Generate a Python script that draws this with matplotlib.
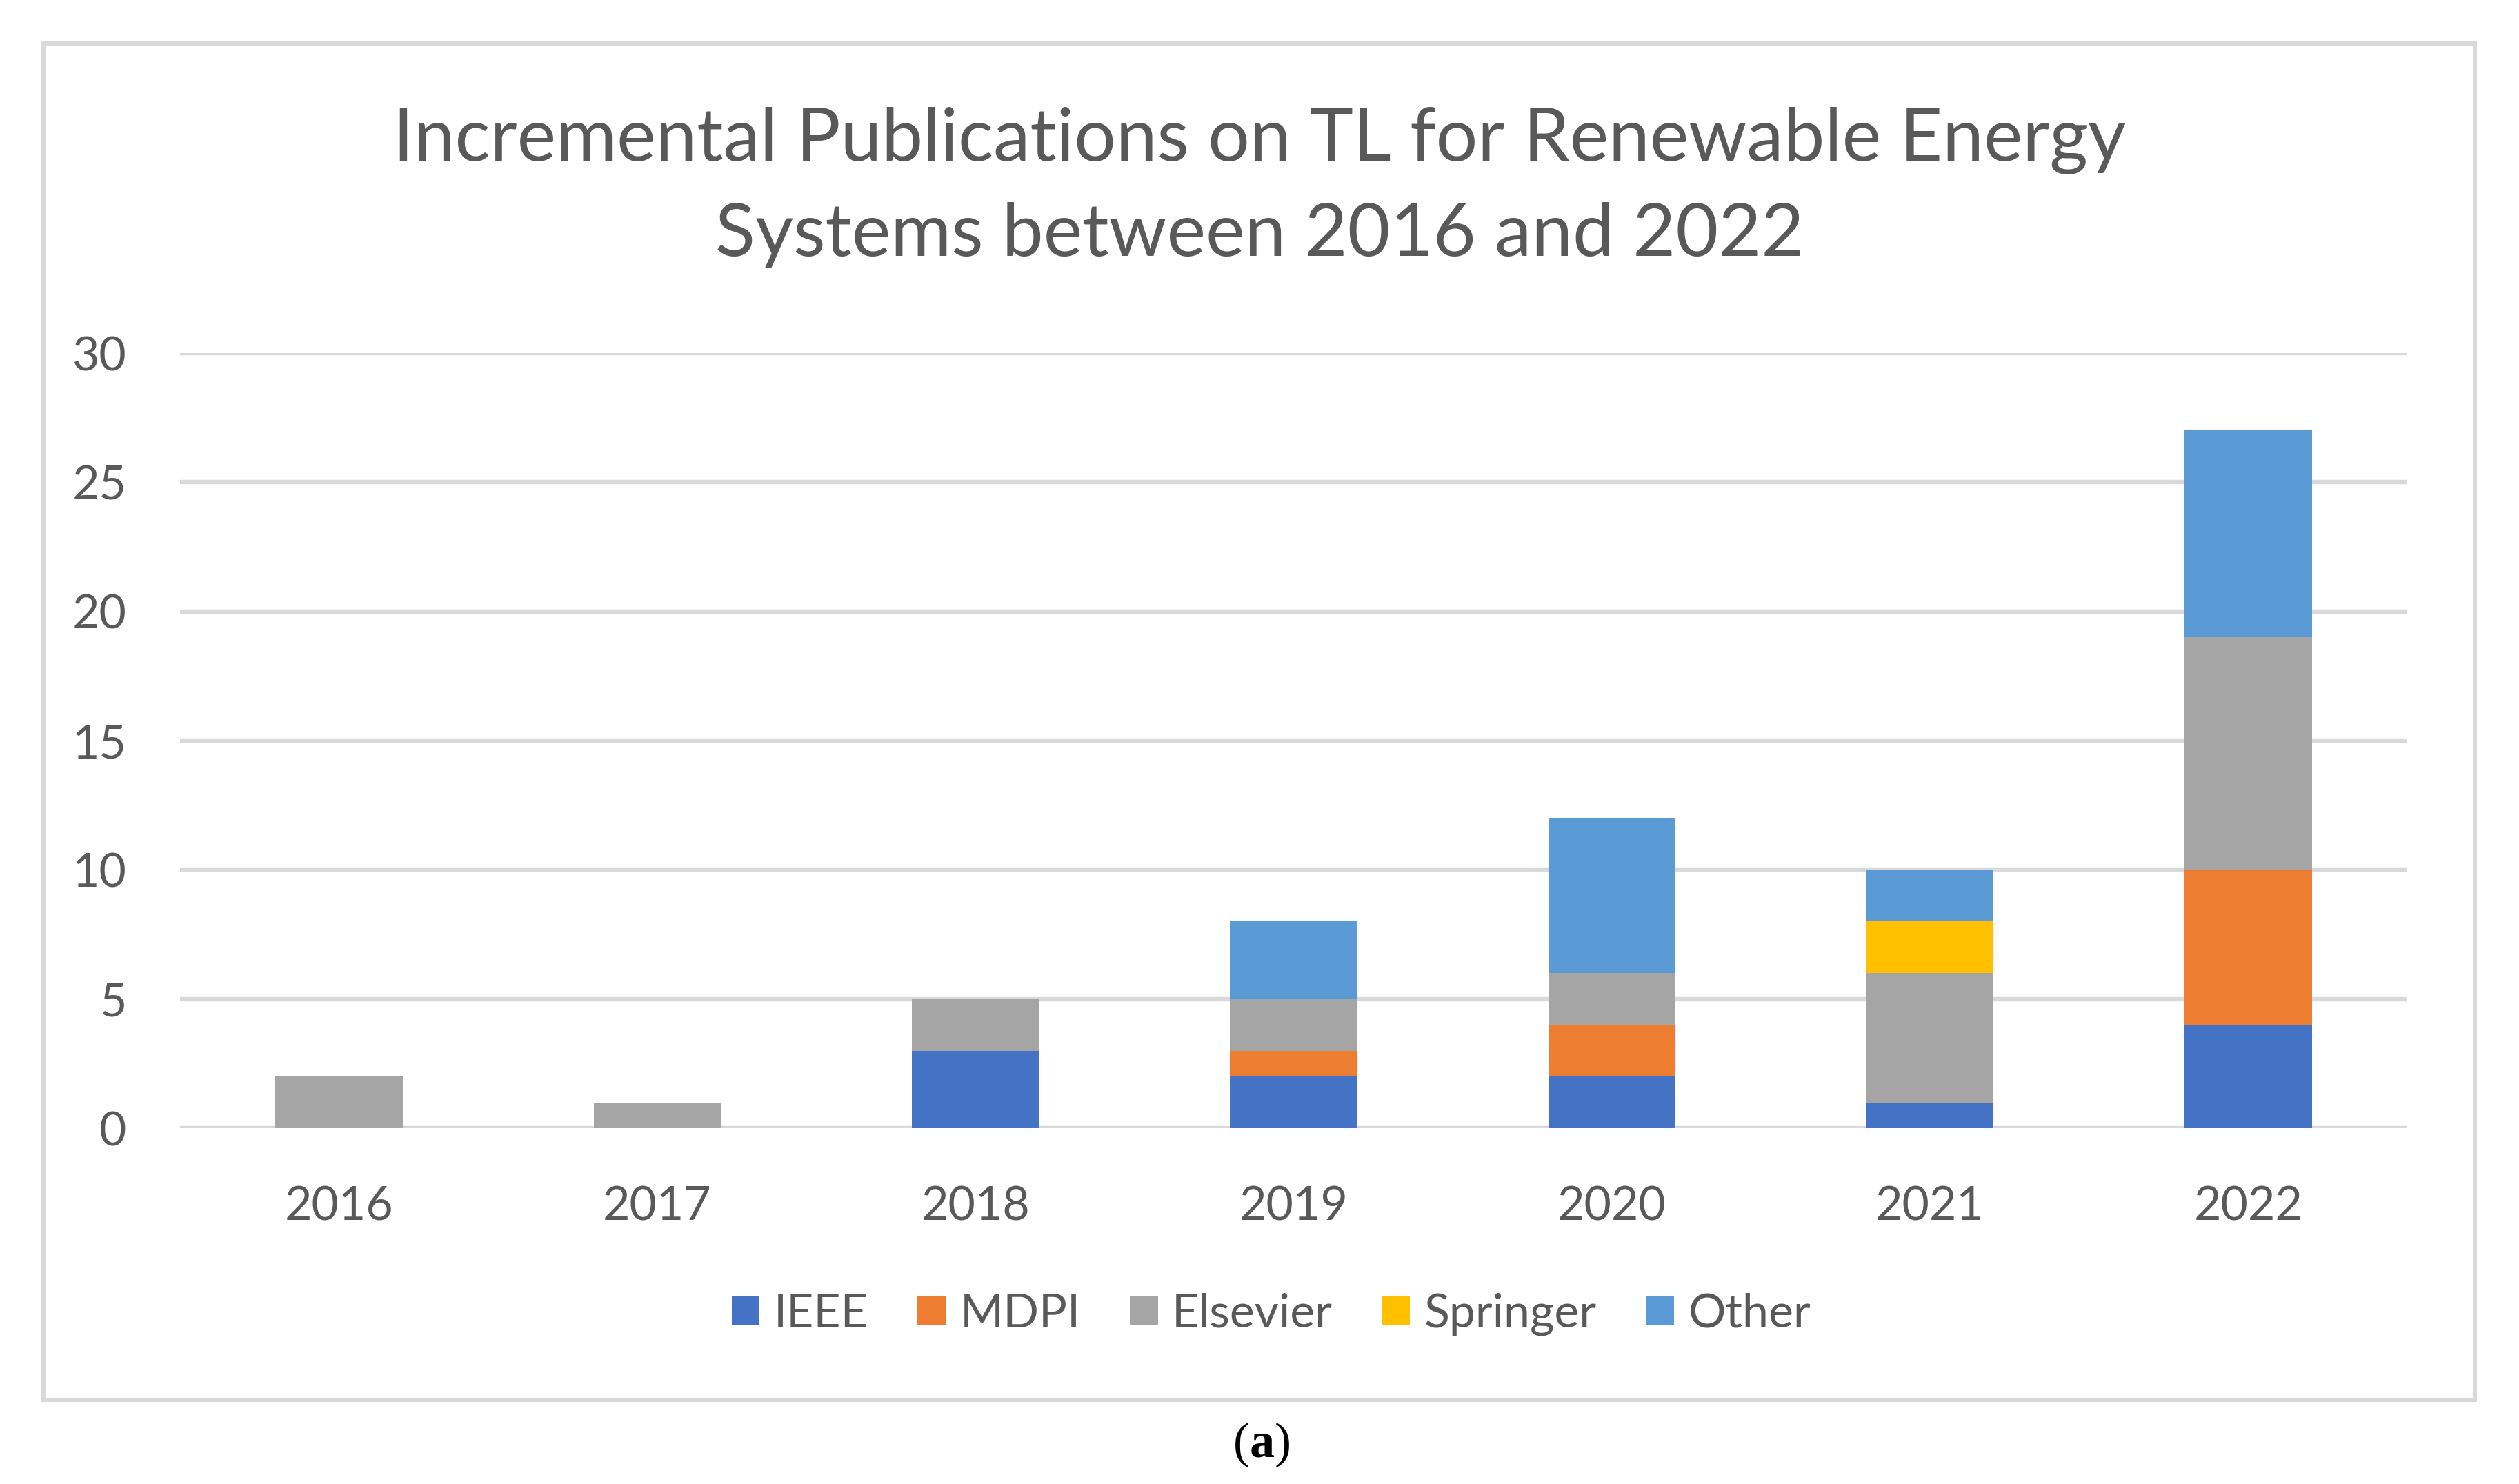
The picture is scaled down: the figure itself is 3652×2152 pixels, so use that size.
import matplotlib.pyplot as plt
from matplotlib.patches import Patch, Rectangle

years = ["2016", "2017", "2018", "2019", "2020", "2021", "2022"]
ieee = [0, 0, 3, 2, 2, 1, 4]
mdpi = [0, 0, 0, 1, 2, 0, 6]
elsevier = [2, 1, 2, 2, 2, 5, 9]
springer = [0, 0, 0, 0, 0, 2, 0]
other = [0, 0, 0, 3, 6, 2, 8]

series_names = ["IEEE", "MDPI", "Elsevier", "Springer", "Other"]
colors = ["#4472C4", "#ED7D31", "#A5A5A5", "#FFC000", "#5B9BD5"]

TEXT = "#595959"
GRID = "#D9D9D9"
W, H, DPI = 3652, 2152, 200


def main():
    plt.rcParams["font.family"] = ["Lato", "DejaVu Sans"]
    fig = plt.figure(figsize=(W / DPI, H / DPI), dpi=DPI)
    ax = fig.add_axes([261 / W, 1 - 1636 / H, (3490 - 261) / W, (1636 - 512) / H])

    # chart border like the Excel chart area
    fig.patches.append(Rectangle((63 / W, 1 - 2030 / H), (3588 - 63) / W, (2030 - 63) / H,
                                 transform=fig.transFigure, fill=False,
                                 edgecolor=GRID, linewidth=2.2))

    x = range(len(years))
    bottom = [0] * len(years)
    for vals, name, c in zip([ieee, mdpi, elsevier, springer, other], series_names, colors):
        ax.bar(x, vals, width=0.4, bottom=bottom, color=c, label=name, zorder=3)
        bottom = [b + v for b, v in zip(bottom, vals)]

    ax.set_xlim(-0.5, 6.5)
    ax.set_ylim(0, 30)
    ax.set_yticks(range(0, 31, 5))
    ax.set_xticks(list(x))
    ax.set_xticklabels(years)
    ax.yaxis.grid(True, color=GRID, linewidth=2.3, zorder=0)
    ax.set_axisbelow(True)
    for s in ax.spines.values():
        s.set_visible(False)
    ax.tick_params(axis="both", length=0, labelsize=24.5, labelcolor=TEXT)
    ax.tick_params(axis="y", pad=28)
    ax.tick_params(axis="x", pad=30)

    fig.text(1826 / W, 1 - 272 / H,
             "Incremental Publications on TL for Renewable Energy\nSystems between 2016 and 2022",
             ha="center", va="center", fontsize=38.5, color=TEXT, linespacing=1.52)

    handles = [Patch(facecolor=c, label=n) for n, c in zip(series_names, colors)]
    fig.legend(handles=handles, loc="center", bbox_to_anchor=(1843 / W, 1 - 1906 / H),
               ncol=5, frameon=False, fontsize=24.5, labelcolor=TEXT,
               handlelength=0.6, handleheight=0.6, handletextpad=0.3,
               columnspacing=1.05)

    # caption (a) below the chart box
    cy = 1 - 2095 / H
    fig.text(1830 / W, cy, "a", ha="center", va="center", fontsize=26,
             family="Liberation Serif", weight="bold", color="black")
    fig.text(1812 / W, cy, "(", ha="right", va="center", fontsize=26,
             family="Liberation Serif", color="black")
    fig.text(1848 / W, cy, ")", ha="left", va="center", fontsize=26,
             family="Liberation Serif", color="black")

    fig.savefig("out.png", dpi=DPI, facecolor="white")


if __name__ == "__main__":
    main()
